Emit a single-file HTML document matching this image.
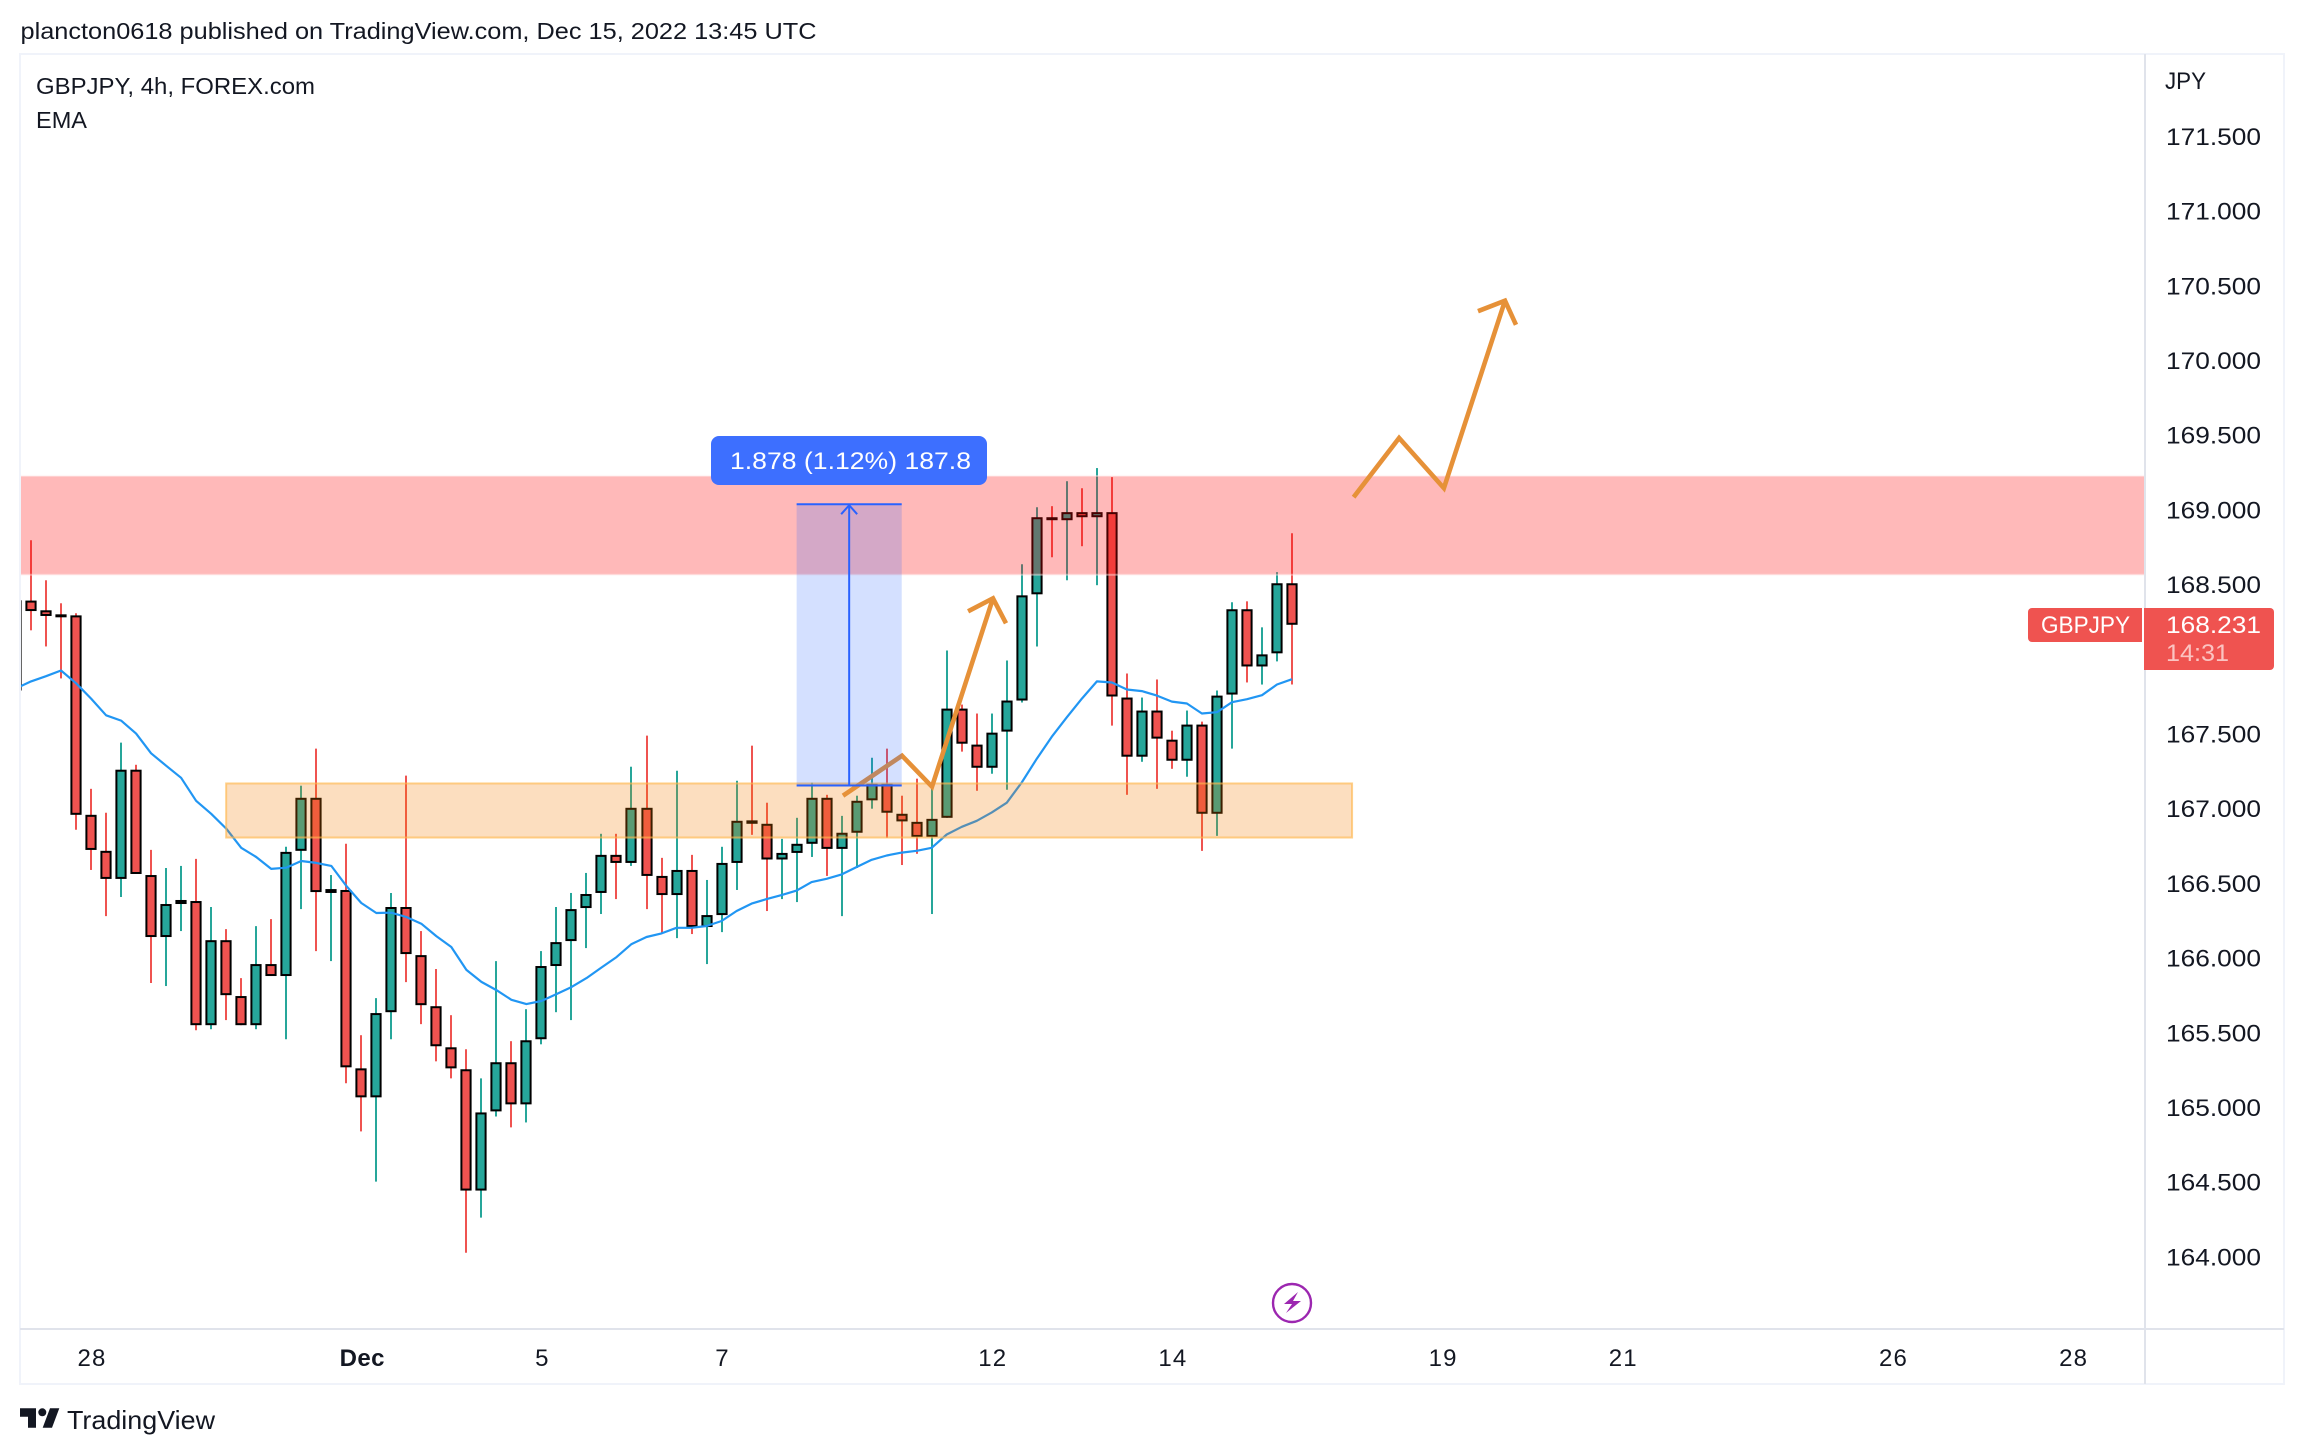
<!DOCTYPE html>
<html lang="en">
<head>
<meta charset="utf-8">
<title>GBPJPY 4h chart</title>
<style>
  html, body { margin: 0; padding: 0; background: #ffffff; }
  svg { display: block; }
  text { font-family: "Liberation Sans", sans-serif; fill: #131722; }
</style>
</head>
<body>
<svg id="chart" xmlns="http://www.w3.org/2000/svg" width="2304" height="1454" viewBox="0 0 2304 1454">
  <defs>
    <clipPath id="plot-clip"><rect x="21" y="55" width="2123" height="1273"></rect></clipPath>
  </defs>
  <rect x="0" y="0" width="2304" height="1454" fill="#ffffff"></rect>
  <text x="20.5" y="39" font-size="23.5" textLength="796" lengthAdjust="spacingAndGlyphs">plancton0618 published on TradingView.com, Dec 15, 2022 13:45 UTC</text>

  <rect x="20" y="54" width="2264" height="1330" fill="none" stroke="#f0f3fa" stroke-width="2"></rect>

  <g clip-path="url(#plot-clip)">
    <g id="candles"></g>
    <path id="ema" fill="none" stroke="#2196f3" stroke-width="2.2" stroke-linejoin="round"></path>
    <rect id="support-zone" fill="rgba(245,124,0,0.25)" stroke="rgba(255,183,77,0.65)" stroke-width="2"></rect>
    <rect id="resistance-zone" fill="rgba(255,5,5,0.28)" stroke="rgba(255,235,235,0.45)" stroke-width="2"></rect>
    <g id="drawings"></g>
    <rect id="measure-box" fill="rgba(41,98,255,0.2)"></rect>
    <g id="measure-lines"></g>
  </g>

  <g>
    <rect x="711" y="436" width="276" height="49" rx="8" fill="#3d6fff"></rect>
    <text x="730" y="469" font-size="24" textLength="241" lengthAdjust="spacingAndGlyphs" style="fill:#ffffff">1.878 (1.12%) 187.8</text>
  </g>

  <text x="36" y="94" font-size="23.5" textLength="279" lengthAdjust="spacingAndGlyphs">GBPJPY, 4h, FOREX.com</text>
  <text x="36" y="128" font-size="23.5" textLength="51" lengthAdjust="spacingAndGlyphs">EMA</text>

  <line x1="2145" y1="54" x2="2145" y2="1384" stroke="#e0e3eb" stroke-width="2"></line>
  <line x1="20" y1="1329" x2="2284" y2="1329" stroke="#e0e3eb" stroke-width="2"></line>

  <text x="2165" y="89" font-size="24" textLength="41" lengthAdjust="spacingAndGlyphs">JPY</text>
  <g id="price-ticks"></g>
  <g id="time-ticks"></g>

  <g>
    <path d="M2142 608 H2032 a4 4 0 0 0 -4 4 V638 a4 4 0 0 0 4 4 H2142 Z" fill="#ef5350"></path>
    <text x="2041" y="633" font-size="24" textLength="89" lengthAdjust="spacingAndGlyphs" style="fill:#ffffff">GBPJPY</text>
  </g>
  <g>
    <path d="M2144 608 H2270 a4 4 0 0 1 4 4 V666 a4 4 0 0 1 -4 4 H2144 Z" fill="#ef5350"></path>
    <text x="2166" y="633" font-size="24" textLength="95" lengthAdjust="spacingAndGlyphs" style="fill:#ffffff">168.231</text>
    <text x="2166" y="661" font-size="24" textLength="63" lengthAdjust="spacingAndGlyphs" style="fill:#fbc4c2">14:31</text>
  </g>

  <g>
    <circle cx="1292" cy="1303" r="19" fill="#ffffff" stroke="#9c27b0" stroke-width="2.4"></circle>
    <polygon points="1298,1292 1284,1304 1292,1304 1286,1313 1301,1301 1293,1301" fill="#9c27b0"></polygon>
  </g>

  <g>
    <polygon points="20,1408.3 36,1408.3 36,1427.7 28,1427.7 28,1416.7 20,1416.7" fill="#131722"></polygon>
    <circle cx="42.3" cy="1412.3" r="4" fill="#131722"></circle>
    <polygon points="59.3,1408.3 52,1427.7 42.7,1427.7 50,1408.3" fill="#131722"></polygon>
    <text x="67" y="1429" font-size="26" textLength="148" lengthAdjust="spacingAndGlyphs">TradingView</text>
  </g>
</svg>

<script>
const opens = [168.395,168.393,168.328,168.301,168.294,166.959,166.718,166.530,167.261,166.556,166.141,166.362,166.382,165.551,166.120,165.746,165.551,165.960,165.880,166.718,167.073,166.436,166.456,165.262,165.068,165.638,166.342,166.020,165.678,165.403,165.256,164.444,164.974,165.303,165.021,165.457,165.947,166.114,166.335,166.436,166.691,166.637,167.006,166.550,166.422,166.590,166.208,166.288,166.637,166.922,166.899,166.660,166.704,166.765,167.073,166.731,166.839,167.056,167.167,166.966,166.912,166.811,166.939,167.670,167.429,167.274,167.516,167.724,168.435,168.951,168.931,168.985,168.951,168.985,167.744,167.348,167.657,167.462,167.321,167.563,166.966,167.764,168.335,167.952,168.040,168.509];
const highs = [168.395,168.797,168.529,168.375,168.308,167.133,166.973,167.442,167.294,166.724,166.603,166.617,166.664,166.342,166.194,165.866,166.214,166.261,166.745,167.154,167.402,166.556,166.765,165.484,165.732,166.436,167.221,166.181,165.927,165.618,165.390,165.195,165.980,165.444,165.658,166.047,166.342,166.436,166.570,166.832,166.832,167.281,167.489,166.671,167.254,166.691,166.523,166.745,167.187,167.422,167.040,166.798,166.939,167.174,167.093,166.952,167.087,167.341,167.402,167.087,167.201,167.133,168.059,167.697,167.637,167.637,167.992,168.636,169.018,169.025,169.192,169.145,169.280,169.219,167.905,167.744,167.865,167.522,167.657,167.583,167.791,168.382,168.388,168.214,168.583,168.844];
const lows = [167.791,168.194,168.086,167.872,166.859,166.590,166.281,166.409,166.563,165.833,165.813,166.181,165.517,165.524,165.585,165.551,165.524,165.880,165.457,166.328,166.047,165.980,165.162,164.840,164.504,165.457,165.839,165.558,165.309,165.195,164.028,164.263,164.940,164.867,164.900,165.423,165.638,165.585,166.067,166.295,166.395,166.617,166.328,166.161,166.134,166.161,165.960,166.174,166.456,166.825,166.315,166.395,166.375,166.677,166.550,166.281,166.603,167.000,166.805,166.623,166.698,166.295,166.939,167.382,167.120,167.234,167.127,167.711,168.086,168.683,168.529,168.757,168.496,167.556,167.093,167.314,167.133,167.267,167.214,166.718,166.818,167.402,167.845,167.831,167.986,167.831];
const closes = [167.791,168.323,168.290,168.281,166.959,166.724,166.530,167.261,166.563,166.141,166.362,166.389,165.551,166.120,165.752,165.551,165.960,165.880,166.711,167.073,166.442,166.462,165.269,165.068,165.632,166.342,166.027,165.685,165.410,165.262,164.444,164.967,165.303,165.021,165.450,165.947,166.107,166.328,166.429,166.691,166.637,167.006,166.550,166.422,166.590,166.208,166.288,166.637,166.919,166.899,166.660,166.704,166.765,167.073,166.731,166.839,167.053,167.167,166.973,166.915,166.811,166.932,167.670,167.435,167.274,167.509,167.724,168.428,168.951,168.931,168.985,168.951,168.985,167.751,167.348,167.657,167.469,167.321,167.563,166.966,167.757,168.335,167.952,168.033,168.509,168.231];
const emaValues = [167.805,167.852,167.887,167.925,167.840,167.737,167.625,167.590,167.503,167.371,167.288,167.207,167.053,166.966,166.867,166.738,166.677,166.597,166.605,166.650,166.637,166.617,166.483,166.369,166.302,166.304,166.275,166.230,166.147,166.074,165.921,165.841,165.786,165.721,165.692,165.713,165.759,165.806,165.866,165.937,166.007,166.094,166.141,166.165,166.203,166.203,166.215,166.248,166.315,166.365,166.395,166.422,166.452,166.509,166.531,166.560,166.610,166.658,166.687,166.706,166.718,166.738,166.827,166.879,166.919,166.975,167.040,167.176,167.335,167.482,167.612,167.737,167.852,167.845,167.798,167.787,167.757,167.717,167.704,167.637,167.646,167.713,167.733,167.760,167.831,167.867];
const priceTicks = ["171.500","171.000","170.500","170.000","169.500","169.000","168.500","167.500","167.000","166.500","166.000","165.500","165.000","164.500","164.000"];
const timeTickBars = [5,23,35,47,65,77,95,107,125,137];
const timeTickLabels = ["28","Dec","5","7","12","14","19","21","26","28"];
const resistanceZonePrices = [169.227,168.566];
const supportZoneBars = [14,89];
const supportZonePrices = [167.169,166.807];
const measureBars = [52,59];
const measurePrices = [169.038,167.155];
const firstArrowBars = [55.09,59.02,61.02,65.08];
const firstArrowPrices = [167.087,167.355,167.147,168.408];
const firstHeadBars = [63.42,65.08,65.95];
const firstHeadPrices = [168.321,168.408,168.241];
const secondArrowBars = [89.1,92.13,95.12,99.19];
const secondArrowPrices = [169.085,169.481,169.146,170.400];
const secondHeadBars = [97.39,99.19,99.92];
const secondHeadPrices = [170.330,170.400,170.239];

function priceY(p) { return 584.6 + (168.5 - p) * 149.4; }
function barX(i) { return 16 + 15.012 * i; }

const NS = 'http://www.w3.org/2000/svg';
function make(tag, attrs, parent) {
  const el = document.createElementNS(NS, tag);
  for (const k in attrs) el.setAttribute(k, attrs[k]);
  parent.appendChild(el);
  return el;
}

const candleGroup = document.getElementById('candles');
opens.forEach(function (o, i) {
  const c = closes[i];
  const up = c >= o;
  const color = up ? '#26a69a' : '#ef5350';
  const x = Math.round(barX(i));
  const g = make('g', {}, candleGroup);
  
  
  const wick = make('line', { x1: x, x2: x, y1: priceY(highs[i]), y2: priceY(lows[i]), stroke: color, 'stroke-width': 2 }, g);
  
  
  const top = priceY(Math.max(o, c));
  const bottom = priceY(Math.min(o, c));
  const body = make('rect', { x: x - 4.6, width: 9.2, y: top + 1, height: Math.max(0.5, bottom - top - 2), fill: color, stroke: '#000000', 'stroke-width': 2 }, g);
  
  
});

document.getElementById('ema').setAttribute('d', emaValues.map(function (v, i) {
  return (i ? 'L' : 'M') + barX(i).toFixed(1) + ' ' + priceY(v).toFixed(1);
}).join(' '));

function placeRect(el, x1, x2, y1, y2) {
  el.setAttribute('x', x1);
  el.setAttribute('width', x2 - x1);
  el.setAttribute('y', y1);
  el.setAttribute('height', y2 - y1);
}
placeRect(document.getElementById('resistance-zone'), 15, 2145, priceY(resistanceZonePrices[0]), priceY(resistanceZonePrices[1]));
placeRect(document.getElementById('support-zone'), barX(supportZoneBars[0]), barX(supportZoneBars[1]), priceY(supportZonePrices[0]), priceY(supportZonePrices[1]));
const boxLeft = barX(measureBars[0]);
const boxRight = barX(measureBars[1]);
const boxTop = priceY(measurePrices[0]);
const boxBottom = priceY(measurePrices[1]);
placeRect(document.getElementById('measure-box'), boxLeft, boxRight, boxTop, boxBottom);

const drawings = document.getElementById('drawings');
function arrowLine(bars, prices, name) {
  const line = make('polyline', {
    points: bars.map(function (b, i) { return barX(b).toFixed(1) + ',' + priceY(prices[i]).toFixed(1); }).join(' '),
    fill: 'none', stroke: '#e69138', 'stroke-width': 4.6, 'stroke-linejoin': 'miter'
  }, drawings);
  
  
}
arrowLine(firstArrowBars, firstArrowPrices, 'first-arrow-path');
arrowLine(firstHeadBars, firstHeadPrices, 'first-arrow-head');
arrowLine(secondArrowBars, secondArrowPrices, 'second-arrow-path');
arrowLine(secondHeadBars, secondHeadPrices, 'second-arrow-head');

const measureLines = document.getElementById('measure-lines');
const boxMid = (boxLeft + boxRight) / 2;
const measureTopLine = make('line', { x1: boxLeft, x2: boxRight, y1: boxTop, y2: boxTop, stroke: '#2962ff', 'stroke-width': 2 }, measureLines);


const measureBottomLine = make('line', { x1: boxLeft, x2: boxRight, y1: boxBottom, y2: boxBottom, stroke: '#2962ff', 'stroke-width': 2 }, measureLines);


const measureStem = make('line', { x1: boxMid, x2: boxMid, y1: boxTop, y2: boxBottom, stroke: '#2962ff', 'stroke-width': 2 }, measureLines);


const measureHead = make('polyline', { points: (boxMid - 8) + ',' + (boxTop + 10) + ' ' + boxMid + ',' + (boxTop + 1) + ' ' + (boxMid + 8) + ',' + (boxTop + 10), fill: 'none', stroke: '#2962ff', 'stroke-width': 2 }, measureLines);



const priceGroup = document.getElementById('price-ticks');
priceTicks.forEach(function (label) {
  const t = make('text', { x: 2166, y: priceY(parseFloat(label)) + 8.5, 'font-size': 24, textLength: 95, lengthAdjust: 'spacingAndGlyphs' }, priceGroup);
  
  
  t.textContent = label;
});

const timeGroup = document.getElementById('time-ticks');
timeTickLabels.forEach(function (label, i) {
  const t = make('text', { x: barX(timeTickBars[i]) + 1, y: 1366, 'font-size': 24, 'text-anchor': 'middle', 'letter-spacing': label === 'Dec' ? 0.4 : 1.2, 'font-weight': label === 'Dec' ? 'bold' : 'normal' }, timeGroup);
  
  
  t.textContent = label;
});
</script>
</body>
</html>
